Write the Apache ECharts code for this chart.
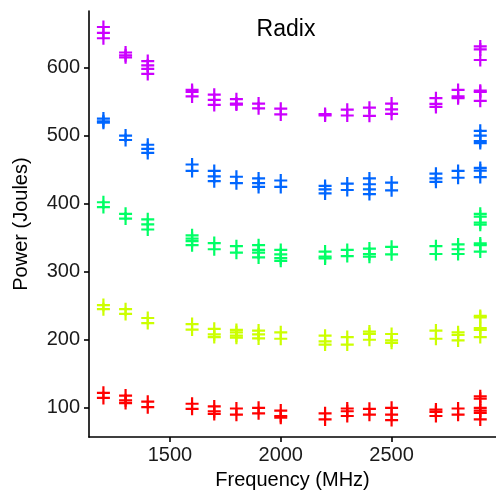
<!DOCTYPE html>
<html>
<head>
<meta charset="utf-8">
<script src="https://cdn.jsdelivr.net/npm/echarts@6/dist/echarts.min.js"></script>
<style>html,body{margin:0;padding:0;background:#fff}#c{width:496px;height:495px}</style>
</head>
<body>
<div id="c"></div>
<script>
const freqs = [1200,1300,1400,1600,1700,1800,1900,2000,2200,2300,2400,2500,2700,2800,2900];
const xTicks = [1500, 2000, 2500];
const yTicks = [100, 200, 300, 400, 500, 600];
const red = [[122,114.5],[118,111,107],[109,101],[106,98.5],[102,95,91],[99,90],[100,92],[96,88,85.5],[92,83],[99,95,88],[98.5,90],[100,90,82],[97.5,94,88],[99,90],[117,113.5,100,96,92.5,83]];
const yellow = [[251,245],[245,238],[232,224.5],[223,215],[216,208,204],[214.5,211,206,203],[213.5,208,202],[211,201.5],[206,197.5,193],[204,193],[212,208.5,200],[208.5,199,195.5],[213.5,201.5],[211,207,199],[235,233,217,214.5,204]];
const green = [[402,395],[385,378],[377,369.5,362],[353.5,348.5,345,339],[342,333],[337.5,328],[339,332,328,321],[332,325.5,320,316],[329.5,322,319.5],[332,323],[334,326,322],[336.5,325.5],[337.5,326],[340,333,326],[385,381,372,369,341.5,339,329.5]];
const blue = [[525,521,519],[500,493.5],[486.5,480.5,474.5],[457.5,448],[448,440,433],[439.5,430],[437,430,424.5],[434,424.5],[426,421,415],[429.5,420],[437,428.5,421,414],[431,419.5],[444,437,432],[448,438],[507,500,492,489,452.5,448.5,439]];
const purple = [[659.5,651,643],[622,618,615],[609.5,603,598,590.5],[567,564,557.5],[560,552.5,545],[553.5,547,545.5],[547,540],[539.5,531],[531.5,529.5],[538,529.5],[541,529],[547,538.5,532],[555,546.5,542],[567,557.5,555],[631,626.5,611,566,564,551]];
const groups = [
  {name: 'red', vals: red, color: '#FF0000'},
  {name: 'yellow', vals: yellow, color: '#CCFF00'},
  {name: 'green', vals: green, color: '#00FF66'},
  {name: 'blue', vals: blue, color: '#0066FF'},
  {name: 'purple', vals: purple, color: '#CC00FF'}
];
const plusPath = 'path://M0,5.4L13,5.4L13,7.6L0,7.6Z M5.4,0L7.6,0L7.6,13L5.4,13Z';
const series = groups.map(g => {
  const data = [];
  g.vals.forEach((arr, i) => arr.forEach(v => data.push([freqs[i], v])));
  return {
    type: 'scatter', name: g.name, data: data,
    symbol: plusPath, symbolSize: 13, symbolKeepAspect: true,
    itemStyle: {color: g.color, opacity: 1},
    emphasis: {disabled: true}, silent: true, animation: false
  };
});
const font = 'Liberation Sans, Arial, sans-serif';
const chart = echarts.init(document.getElementById('c'), null, {renderer: 'canvas'});
chart.setOption({
  animation: false,
  backgroundColor: '#ffffff',
  title: {text: 'Radix', left: 281, top: 13, textAlign: 'center',
    textStyle: {fontFamily: font, fontSize: 23, fontWeight: 'normal', color: '#000'}},
  grid: {left: 89, top: 11, right: 0, bottom: 52, containLabel: false},
  xAxis: {
    type: 'value', min: 1135, max: 2971,
    name: 'Frequency (MHz)', nameLocation: 'middle', nameGap: 31,
    nameTextStyle: {fontFamily: font, fontSize: 20, color: '#000'},
    axisLine: {show: true, lineStyle: {color: '#000', width: 1.6}},
    axisTick: {show: true, length: 5, lineStyle: {color: '#000', width: 1.6}, customValues: xTicks},
    axisLabel: {fontFamily: font, fontSize: 20, color: '#1a1a1a', margin: 8, customValues: xTicks,
      formatter: v => String(v)},
    splitLine: {show: false}
  },
  yAxis: {
    type: 'value', min: 57, max: 683,
    name: 'Power (Joules)', nameLocation: 'middle', nameGap: 58, nameRotate: 90,
    nameTextStyle: {fontFamily: font, fontSize: 20, color: '#000'},
    axisLine: {show: true, lineStyle: {color: '#000', width: 1.6}},
    axisTick: {show: true, length: 5, lineStyle: {color: '#000', width: 1.6}, customValues: yTicks},
    axisLabel: {fontFamily: font, fontSize: 20, color: '#1a1a1a', margin: 9, customValues: yTicks,
      formatter: v => String(v)},
    splitLine: {show: false}
  },
  series: series
});
</script>
</body>
</html>
